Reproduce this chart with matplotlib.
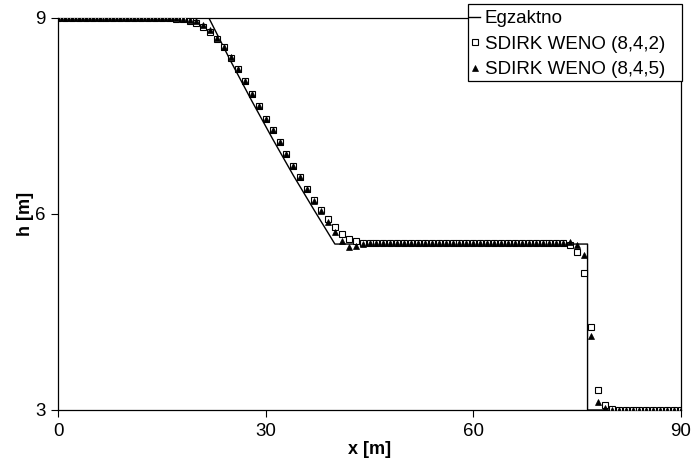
import matplotlib
matplotlib.use("Agg")
import matplotlib.pyplot as plt
from matplotlib.patches import Rectangle

plt.rcParams['font.family'] = ['Liberation Sans', 'DejaVu Sans']

# exact solution
x_exact = [0, 21.8, 25, 28, 31, 34, 37, 40.0, 76.5, 76.5, 90]
h_exact = [9.0, 9.0, 8.33, 7.73, 7.15, 6.59, 6.06, 5.54, 5.54, 3.0, 3.0]

# numerical solutions, sampled every 1 m
x_num = [0, 1, 2, 3, 4, 5, 6, 7, 8, 9,
         10, 11, 12, 13, 14, 15, 16, 17, 18, 19,
         20, 21, 22, 23, 24, 25, 26, 27, 28, 29,
         30, 31, 32, 33, 34, 35, 36, 37, 38, 39,
         40, 41, 42, 43, 44, 45, 46, 47, 48, 49,
         50, 51, 52, 53, 54, 55, 56, 57, 58, 59,
         60, 61, 62, 63, 64, 65, 66, 67, 68, 69,
         70, 71, 72, 73, 74, 75, 76, 77, 78, 79,
         80, 81, 82, 83, 84, 85, 86, 87, 88, 89, 90]

h_842 = [9.00, 9.00, 9.00, 9.00, 9.00, 9.00, 9.00, 9.00, 9.00, 9.00,
         9.00, 9.00, 9.00, 9.00, 9.00, 9.00, 9.00, 8.99, 8.98, 8.95,
         8.93, 8.86, 8.78, 8.68, 8.55, 8.39, 8.22, 8.03, 7.84, 7.65,
         7.46, 7.28, 7.10, 6.92, 6.74, 6.57, 6.39, 6.22, 6.06, 5.92,
         5.80, 5.69, 5.62, 5.58, 5.56, 5.55, 5.55, 5.55, 5.55, 5.55,
         5.55, 5.55, 5.55, 5.55, 5.55, 5.55, 5.55, 5.55, 5.55, 5.55,
         5.55, 5.55, 5.55, 5.55, 5.55, 5.55, 5.55, 5.55, 5.55, 5.55,
         5.55, 5.55, 5.55, 5.55, 5.52, 5.42, 5.10, 4.27, 3.31, 3.07,
         3.02, 3.00, 3.00, 3.00, 3.00, 3.00, 3.00, 3.00, 3.00, 3.00, 3.00]

h_845 = [9.00, 9.00, 9.00, 9.00, 9.00, 9.00, 9.00, 9.00, 9.00, 9.00,
         9.00, 9.00, 9.00, 9.00, 9.00, 9.00, 9.00, 9.00, 8.99, 8.97,
         8.96, 8.90, 8.82, 8.70, 8.56, 8.40, 8.22, 8.03, 7.84, 7.65,
         7.46, 7.28, 7.10, 6.92, 6.74, 6.56, 6.38, 6.20, 6.04, 5.88,
         5.73, 5.58, 5.50, 5.51, 5.54, 5.55, 5.55, 5.55, 5.55, 5.55,
         5.55, 5.55, 5.55, 5.55, 5.55, 5.55, 5.55, 5.55, 5.55, 5.55,
         5.55, 5.55, 5.55, 5.55, 5.55, 5.55, 5.55, 5.55, 5.55, 5.55,
         5.55, 5.55, 5.55, 5.56, 5.57, 5.53, 5.37, 4.14, 3.13, 3.03,
         3.00, 3.00, 3.00, 3.00, 3.00, 3.00, 3.00, 3.00, 3.00, 3.00, 3.00]

labels = ["Egzaktno", "SDIRK WENO (8,4,2)", "SDIRK WENO (8,4,5)"]
x_ticks = [0, 30, 60, 90]
y_ticks = [3, 6, 9]

W, H = 693, 462
fig = plt.figure(figsize=(W / 100, H / 100), dpi=100)
ax = fig.add_axes([58 / W, 1 - 410 / H, (681 - 58) / W, (410 - 18) / H])

ax.plot(x_exact, h_exact, color='black', lw=1.0, label=labels[0], zorder=2)
ax.plot(x_num, h_842, ls='none', marker='s', ms=4.3, mfc='white', mec='black',
        mew=0.8, label=labels[1], zorder=3)
ax.plot(x_num, h_845, ls='none', marker='^', ms=4.0, mfc='black', mec='black',
        mew=0.5, label=labels[2], zorder=4)

ax.set_xlim(0, 90)
ax.set_ylim(3, 9)
ax.set_xticks(x_ticks)
ax.set_yticks(y_ticks)
ax.tick_params(direction='out', length=5, width=0.8, labelsize=13.5, pad=4)
for s in ax.spines.values():
    s.set_linewidth(0.9)
    s.set_color('black')

ax.set_xlabel("x [m]", fontsize=13, fontweight='bold', labelpad=1)
ax.set_ylabel("h [m]", fontsize=13, fontweight='bold', labelpad=1)

# legend box (drawn as its own rectangle, like the reference)
fig.patches.append(Rectangle((468 / W, 1 - 81 / H), (682 - 468) / W, (81 - 4) / H,
                             transform=fig.transFigure, facecolor='white',
                             edgecolor='black', lw=0.9, zorder=5))
leg = fig.legend(loc='upper left', bbox_to_anchor=(469 / W, 1 - 10 / H),
                 bbox_transform=fig.transFigure, borderaxespad=0,
                 fontsize=13.5, frameon=False, handlelength=0.6,
                 handletextpad=0.25, labelspacing=0.45, borderpad=0)
leg.set_zorder(6)

fig.savefig("out.png", dpi=100)
